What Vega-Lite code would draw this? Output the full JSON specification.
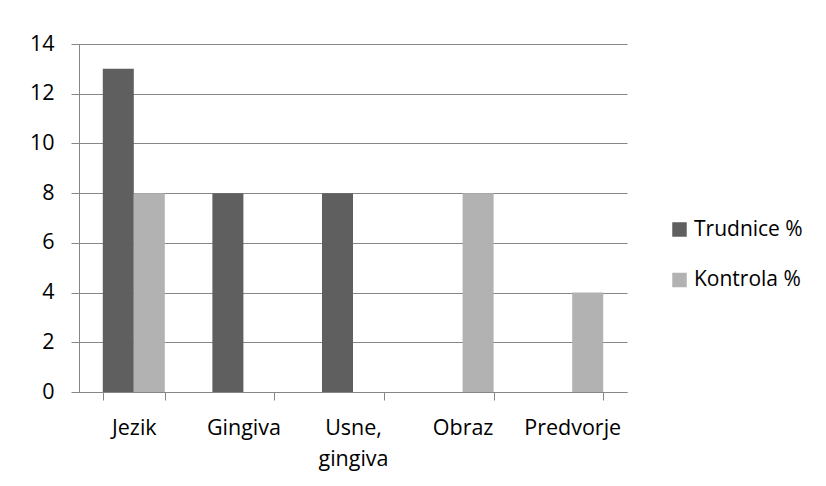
{
  "$schema": "https://vega.github.io/schema/vega-lite/v6.json",
  "width": 548,
  "height": 348,
  "autosize": {"type": "none"},
  "padding": {"left": 79, "top": 44, "right": 199, "bottom": 94},
  "background": "white",
  "config": {
    "view": {"stroke": null},
    "font": "Open Sans"
  },
  "data": {
    "values": [
      {"kat": "Jezik", "serija": "Trudnice %", "v": 13},
      {"kat": "Jezik", "serija": "Kontrola %", "v": 8},
      {"kat": "Gingiva", "serija": "Trudnice %", "v": 8},
      {"kat": "Gingiva", "serija": "Kontrola %", "v": 0},
      {"kat": "Usne, gingiva", "serija": "Trudnice %", "v": 8},
      {"kat": "Usne, gingiva", "serija": "Kontrola %", "v": 0},
      {"kat": "Obraz", "serija": "Trudnice %", "v": 0},
      {"kat": "Obraz", "serija": "Kontrola %", "v": 8},
      {"kat": "Predvorje", "serija": "Trudnice %", "v": 0},
      {"kat": "Predvorje", "serija": "Kontrola %", "v": 4}
    ]
  },
  "mark": {"type": "bar"},
  "encoding": {
    "x": {
      "field": "kat",
      "type": "nominal",
      "sort": ["Jezik", "Gingiva", "Usne, gingiva", "Obraz", "Predvorje"],
      "scale": {"paddingInner": 0.434, "paddingOuter": 0.217},
      "axis": {
        "title": null,
        "labelAngle": 0,
        "labelFontSize": 21.5,
        "labelColor": "black",
        "labelPadding": 17,
        "labelLineHeight": 31,
        "labelBaseline": "top",
        "labelExpr": "datum.value == 'Usne, gingiva' ? ['Usne,', 'gingiva'] : datum.value",
        "domainColor": "#868686",
        "tickColor": "#868686",
        "tickSize": 8,
        "tickBand": "extent",
        "grid": false
      }
    },
    "xOffset": {
      "field": "serija",
      "sort": ["Trudnice %", "Kontrola %"]
    },
    "y": {
      "field": "v",
      "type": "quantitative",
      "scale": {"domain": [0, 14], "nice": false},
      "axis": {
        "title": null,
        "values": [0, 2, 4, 6, 8, 10, 12, 14],
        "labelFontSize": 21.5,
        "labelColor": "black",
        "labelPadding": 17,
        "domainColor": "#868686",
        "tickColor": "#868686",
        "tickSize": 8,
        "gridColor": "#868686",
        "gridOpacity": 1
      }
    },
    "color": {
      "field": "serija",
      "type": "nominal",
      "sort": ["Trudnice %", "Kontrola %"],
      "scale": {"range": ["#5f5f5f", "#b2b2b2"]},
      "legend": {
        "title": null,
        "orient": "none",
        "legendX": 590,
        "legendY": 175,
        "symbolType": "square",
        "symbolSize": 210,
        "symbolStrokeWidth": 0,
        "labelFontSize": 21,
        "labelColor": "black",
        "rowPadding": 28.5,
        "labelOffset": 4
      }
    }
  }
}
